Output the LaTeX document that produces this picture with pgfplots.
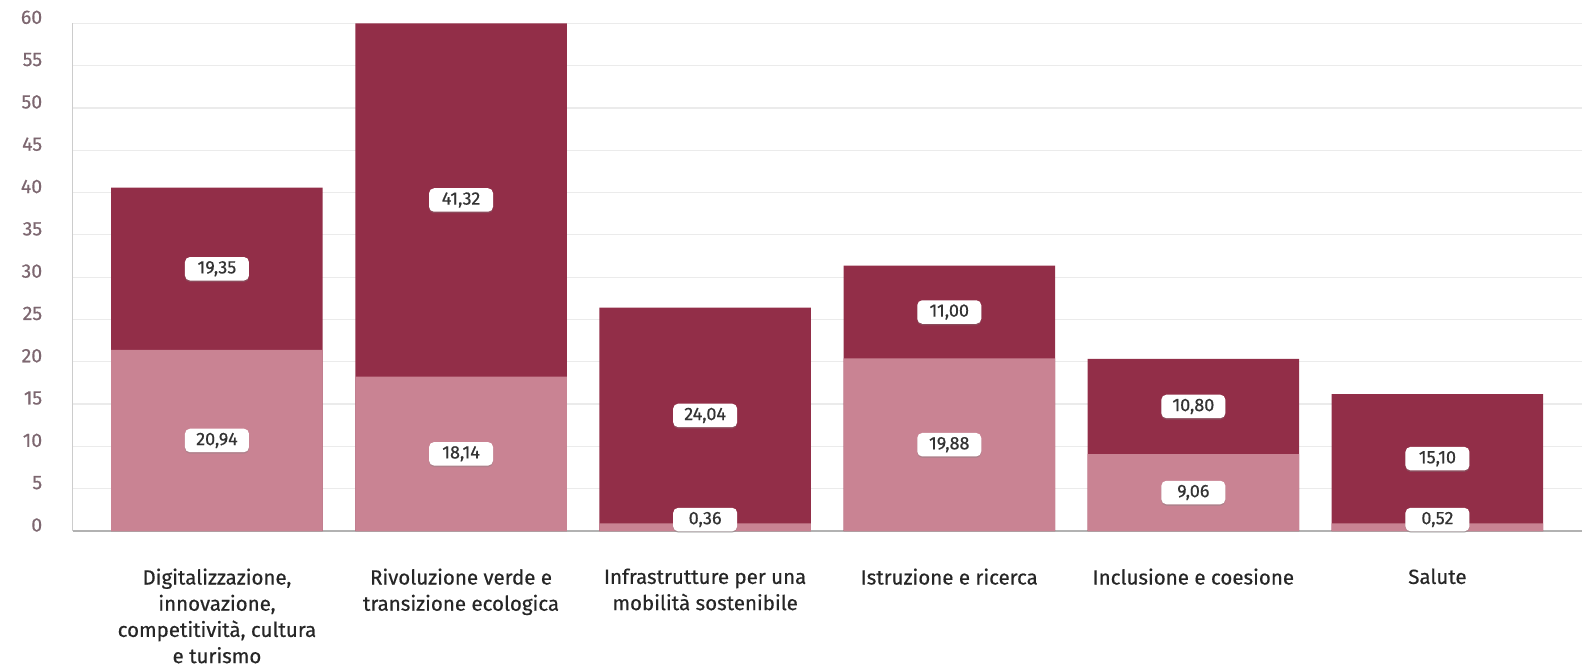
\documentclass[border=0pt]{standalone}
\usepackage{pgfplots}
\pgfplotsset{compat=1.18}
\usepackage{fontspec}
\setmainfont{Fira Sans}
\newfontfamily\medfont{Fira Sans}[FakeBold=0.5]
\usetikzlibrary{shadows}
\definecolor{darkred}{HTML}{922E48}
\definecolor{lightred}{HTML}{C98393}
\definecolor{ticklab}{HTML}{7D6770}
\definecolor{labtext}{HTML}{333333}
\begin{document}
\begin{tikzpicture}
\begin{axis}[
  scale only axis, width=1509pt, height=507.7pt,
  xmin=-0.591, xmax=5.591, ymin=0, ymax=60,
  axis x line*=bottom, axis y line*=left,
  x axis line style={draw=black!30, line width=2pt},
  y axis line style={draw=black!20, line width=1.5pt},
  ytick={0,5,...,60},
  xtick={0,1,2,3,4,5},
  xticklabels={{Digitalizzazione,\\innovazione,\\competitività, cultura\\e turismo},
               {Rivoluzione verde e\\transizione ecologica},
               {Infrastrutture per una\\mobilità sostenibile},
               {Istruzione e ricerca},
               {Inclusione e coesione},
               {Salute}},
  major tick length=0pt,
  ymajorgrids, grid style={draw=black!8, line width=1.2pt},
  yticklabel style={font=\medfont\fontsize{19.5}{21}\selectfont, text=ticklab, xshift=-27pt, yshift=6pt},
  xticklabel style={font=\medfont\fontsize{20.5}{26.2}\selectfont, text=black!85, align=center, anchor=north, yshift=-34pt},
  /pgf/number format/assume math mode=true,
  clip=false,
]
\addplot[ybar, bar width=211.5pt, bar shift=0pt, fill=darkred, draw=none]
  coordinates {(0,40.58) (1,60.0) (2,26.4) (3,31.36) (4,20.33) (5,16.19)};
\addplot[ybar, bar width=211.5pt, bar shift=0pt, fill=lightred, draw=none]
  coordinates {(0,21.4) (1,18.24) (2,0.91) (3,20.41) (4,9.10) (5,0.91)};
\addplot[draw=none, mark=none, nodes near coords, point meta=explicit symbolic,
  nodes near coords align={center},
  nodes near coords style={anchor=center, fill=white, text=labtext, rounded corners=5pt,
    minimum width=64pt, minimum height=23.5pt, inner sep=2pt,
    font=\medfont\fontsize{18}{19}\selectfont,
    drop shadow={shadow xshift=0pt, shadow yshift=-1.5pt, opacity=0.35}}]
  table[meta=lab] {
x y lab
0 30.99 19,35
1 39.12 41,32
2 13.66 24,04
3 25.88 11,00
4 14.72 10,80
5 8.55 15,10
0 10.70 20,94
1 9.12 18,14
2 1.35 0,36
3 10.20 19,88
4 4.55 9,06
5 1.35 0,52
};
\end{axis}
\pgfresetboundingbox
\path[use as bounding box] (-72.7pt,-136pt) rectangle (1516.3pt,531pt);
\end{tikzpicture}
\end{document}
